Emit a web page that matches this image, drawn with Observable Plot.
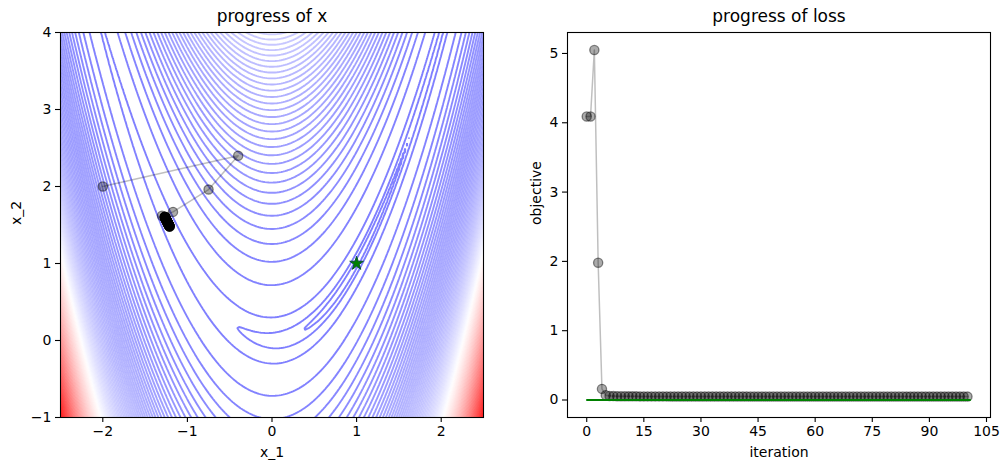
<!DOCTYPE html>
<html><head><meta charset="utf-8">
<script src="https://cdn.jsdelivr.net/npm/d3@7"></script>
<script src="https://cdn.jsdelivr.net/npm/@observablehq/plot@0.6"></script>
<style>
body{margin:0;background:#fff;}
#wrap{position:relative;width:1008px;height:470px;background:#fff;overflow:hidden;}
#left{position:absolute;left:0;top:0;}
#right{position:absolute;left:500px;top:0;}
</style></head><body><div id="wrap"><div id="left"></div><div id="right"></div></div>
<script>
// ---- data ----
const pathX = [-2, -0.4, -0.75, -1.17, -1.30,
 -1.268, -1.267, -1.267, -1.266, -1.266, -1.265, -1.264, -1.264, -1.263, -1.262,
 -1.262, -1.261, -1.261, -1.260, -1.259, -1.259, -1.258, -1.258, -1.257, -1.256,
 -1.256, -1.255, -1.254, -1.254, -1.253, -1.253, -1.252, -1.251, -1.251, -1.250,
 -1.249, -1.249, -1.248, -1.248, -1.247, -1.246, -1.246, -1.245, -1.244, -1.244,
 -1.243, -1.243, -1.242, -1.241, -1.241, -1.240, -1.240, -1.239, -1.238, -1.238,
 -1.237, -1.236, -1.236, -1.235, -1.235, -1.234, -1.233, -1.233, -1.232, -1.231,
 -1.231, -1.230, -1.230, -1.229, -1.228, -1.228, -1.227, -1.227, -1.226, -1.225,
 -1.225, -1.224, -1.223, -1.223, -1.222, -1.222, -1.221, -1.220, -1.220, -1.219,
 -1.218, -1.218, -1.217, -1.217, -1.216, -1.215, -1.215, -1.214, -1.213, -1.213,
 -1.212, -1.212, -1.211, -1.210, -1.210];
const pathY = [2, 2.4, 1.96, 1.67, 1.62,
 1.608, 1.607, 1.605, 1.604, 1.603, 1.601, 1.600, 1.598, 1.597, 1.596,
 1.594, 1.593, 1.592, 1.590, 1.589, 1.588, 1.586, 1.585, 1.583, 1.582,
 1.581, 1.579, 1.578, 1.577, 1.575, 1.574, 1.572, 1.571, 1.570, 1.568,
 1.567, 1.566, 1.564, 1.563, 1.562, 1.560, 1.559, 1.557, 1.556, 1.555,
 1.553, 1.552, 1.551, 1.549, 1.548, 1.547, 1.545, 1.544, 1.542, 1.541,
 1.540, 1.538, 1.537, 1.536, 1.534, 1.533, 1.531, 1.530, 1.529, 1.527,
 1.526, 1.525, 1.523, 1.522, 1.521, 1.519, 1.518, 1.516, 1.515, 1.514,
 1.512, 1.511, 1.510, 1.508, 1.507, 1.505, 1.504, 1.503, 1.501, 1.500,
 1.499, 1.497, 1.496, 1.495, 1.493, 1.492, 1.490, 1.489, 1.488, 1.486,
 1.485, 1.484, 1.482, 1.481, 1.480];
const loss = [4.09, 4.09, 5.05, 1.98, 0.16, 0.07,
 0.058, 0.056, 0.055, 0.054, 0.054, 0.053, 0.053, 0.053, 0.052, 0.052,
 0.052, 0.052, 0.052, 0.052, 0.052, 0.052, 0.051, 0.051, 0.051, 0.051,
 0.051, 0.051, 0.051, 0.051, 0.051, 0.051, 0.051, 0.051, 0.051, 0.051,
 0.051, 0.051, 0.051, 0.051, 0.051, 0.051, 0.051, 0.050, 0.050, 0.050,
 0.050, 0.050, 0.050, 0.050, 0.050, 0.050, 0.050, 0.050, 0.050, 0.050,
 0.050, 0.050, 0.050, 0.050, 0.050, 0.050, 0.050, 0.050, 0.050, 0.050,
 0.050, 0.050, 0.050, 0.050, 0.050, 0.050, 0.050, 0.050, 0.050, 0.050,
 0.050, 0.050, 0.050, 0.050, 0.050, 0.050, 0.050, 0.050, 0.049, 0.049,
 0.049, 0.049, 0.049, 0.049, 0.049, 0.049, 0.049, 0.049, 0.049, 0.049,
 0.049, 0.049, 0.049, 0.049, 0.049];
const optimum = [{x: 1, y: 1}];
const optimalLoss = [{start: 0, end: 101, value: 0}];
const x1Ticks = [-2, -1, 0, 1, 2];
const x2Ticks = [-1, 0, 1, 2, 3, 4];
const iterationTicks = [0, 15, 30, 45, 60, 75, 90, 105];
const lossTicks = [0, 1, 2, 3, 4, 5];
const x1Range = [-2.5, 2.5];
const x2Range = [-1, 4];
const lowLevels = [0.4, 2, 10];
const levelStep = 52.7, levelCount = 99;
const titles = ["progress of x", "progress of loss"];

// ---- derived ----
const rosenbrock = (a, b) => (1 - a) ** 2 + 100 * (b - a * a) ** 2;
const levels = lowLevels.concat(d3.range(1, levelCount + 1).map(k => k * levelStep));
const topLevel = levels[levels.length - 1];
const path = pathX.map((x, i) => ({x, y: pathY[i]}));
const lossData = loss.map((v, i) => ({iteration: i, value: v}));
// sample the surface slightly beyond the frame, then clip, so that no contour runs along the border
const ext = 0.1;

const style = "font-family: 'DejaVu Sans', sans-serif; font-size: 14px; color: black; background: white; overflow: visible;";
const tickFmt = d3.format("d");
const markerStyle = {r: 4.6, fill: "black", fillOpacity: 0.33, stroke: "black", strokeOpacity: 0.45, strokeWidth: 1.3};

const left = Plot.plot({
  width: 500, height: 470,
  marginLeft: 60, marginRight: 17, marginTop: 32, marginBottom: 53,
  style,
  x: {domain: x1Range, label: null},
  y: {domain: x2Range, label: null},
  color: {type: "linear", domain: [0, topLevel / 2, topLevel], range: ["#0000ff", "#ffffff", "#ff0000"], interpolate: "rgb"},
  marks: [
    Plot.contour({x1: x1Range[0] - ext, x2: x1Range[1] + ext, y1: x2Range[0] - ext, y2: x2Range[1] + ext,
      value: rosenbrock, thresholds: levels, stroke: "value", fill: "none",
      strokeOpacity: 0.5, strokeWidth: 1.9, clip: true}),
    Plot.line(path, {x: "x", y: "y", stroke: "black", strokeOpacity: 0.25, strokeWidth: 1.5}),
    Plot.dot(path, {x: "x", y: "y", ...markerStyle}),
    Plot.dot(optimum, {x: "x", y: "y", symbol: "star", r: 4.3, fill: "green", stroke: "#0b4f3a", strokeWidth: 1}),
    Plot.frame({stroke: "black", strokeWidth: 1.1}),
    Plot.axisX({ticks: x1Ticks, tickSize: 5, tickPadding: 4, tickFormat: tickFmt, label: null, strokeWidth: 1.1}),
    Plot.axisY({ticks: x2Ticks, tickSize: 5, tickPadding: 4, tickFormat: tickFmt, label: null, strokeWidth: 1.1}),
    Plot.text([titles[0]], {text: d => d, frameAnchor: "top", lineAnchor: "bottom", dy: -11, fontSize: 17}),
    Plot.text(["x_1"], {text: d => d, frameAnchor: "bottom", lineAnchor: "bottom", dy: 39}),
    Plot.text(["x_2"], {text: d => d, frameAnchor: "left", lineAnchor: "bottom", rotate: -90, dx: -40})
  ]
});
document.getElementById("left").append(left);

const xMax = d3.max([lossData.length - 1, optimalLoss[0].end]);
const yMax = d3.max(loss), yMin = 0;
const xPad = (xMax - 0) * 0.05, yPad = (yMax - yMin) * 0.05;

const right = Plot.plot({
  width: 508, height: 470,
  marginLeft: 67, marginRight: 18, marginTop: 32, marginBottom: 53,
  style,
  x: {domain: [0 - xPad, xMax + xPad], label: null},
  y: {domain: [yMin - yPad, yMax + yPad], label: null},
  marks: [
    Plot.line(lossData, {x: "iteration", y: "value", stroke: "black", strokeOpacity: 0.25, strokeWidth: 1.5}),
    Plot.dot(lossData, {x: "iteration", y: "value", ...markerStyle}),
    Plot.ruleY(optimalLoss, {x1: "start", x2: "end", y: "value", stroke: "green", strokeWidth: 2}),
    Plot.frame({stroke: "black", strokeWidth: 1.1}),
    Plot.axisX({ticks: iterationTicks, tickSize: 5, tickPadding: 4, tickFormat: tickFmt, label: null, strokeWidth: 1.1}),
    Plot.axisY({ticks: lossTicks, tickSize: 5, tickPadding: 4, tickFormat: tickFmt, label: null, strokeWidth: 1.1}),
    Plot.text([titles[1]], {text: d => d, frameAnchor: "top", lineAnchor: "bottom", dy: -11, fontSize: 17}),
    Plot.text(["iteration"], {text: d => d, frameAnchor: "bottom", lineAnchor: "bottom", dy: 39}),
    Plot.text(["objective"], {text: d => d, frameAnchor: "left", lineAnchor: "bottom", rotate: -90, dx: -27})
  ]
});
document.getElementById("right").append(right);
</script>
</body></html>
